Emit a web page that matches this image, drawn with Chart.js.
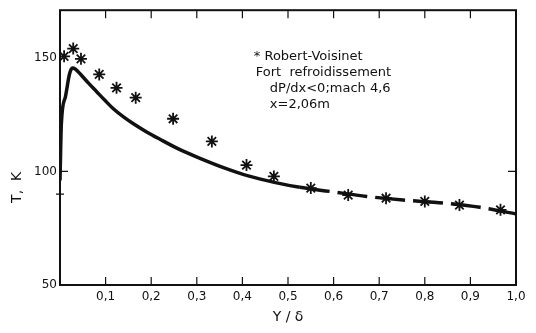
<!DOCTYPE html>
<html>
<head>
<meta charset="utf-8">
<script src="https://cdn.jsdelivr.net/npm/chart.js@4"></script>
<style>
  html, body { margin: 0; padding: 0; background: #fff; }
  #wrap { width: 536px; height: 333px; }
</style>
</head>
<body>
<div id="wrap"><canvas id="chart"></canvas></div>
<script>
// calcul (courbe continue)
const yCurve = [0, 0.003, 0.012, 0.021, 0.027, 0.034, 0.045, 0.062, 0.08, 0.099, 0.117, 0.14, 0.161, 0.19, 0.219, 0.263, 0.307, 0.36, 0.417, 0.47, 0.526, 0.592, 0.673, 0.752, 0.84, 0.921, 1.0];
const tCurve = [96, 121, 133, 143, 145.5, 145, 142.8, 139, 135.2, 131.2, 127.6, 123.9, 121, 117.4, 114.2, 109.6, 105.8, 101.6, 97.8, 95.2, 93, 91.2, 89, 87.4, 86.1, 84.2, 81.3];

// mesures Robert-Voisinet
const yStars = [0.009, 0.029, 0.046, 0.086, 0.124, 0.166, 0.248, 0.333, 0.409, 0.469, 0.55, 0.632, 0.715, 0.8, 0.876, 0.966];
const tStars = [150.7, 154.1, 149.6, 142.7, 136.8, 132.5, 123.2, 113.2, 102.8, 97.8, 92.7, 89.6, 88.2, 86.8, 85.2, 83.1];

const xTicks = [0.1, 0.2, 0.3, 0.4, 0.5, 0.6, 0.7, 0.8, 0.9, 1.0];
const yTicks = [50, 100, 150];

const legendLines = [
  { text: '* Robert-Voisinet', dx: 0 },
  { text: 'Fort  refroidissement', dx: 2 },
  { text: 'dP/dx<0;mach 4,6', dx: 16 },
  { text: 'x=2,06m', dx: 16 }
];

const ink = '#111';
const fontFam = '"DejaVu Sans", sans-serif';

const framePlugin = {
  id: 'frame',
  afterDatasetsDraw(chart) {
    const { ctx, chartArea: a, scales } = chart;
    ctx.save();
    ctx.strokeStyle = ink;
    ctx.lineWidth = 2;
    ctx.strokeRect(a.left, a.top, a.right - a.left, a.bottom - a.top);
    // petits traits vers l'interieur
    ctx.lineWidth = 1.2;
    ctx.beginPath();
    xTicks.forEach(v => {
      const px = scales.x.getPixelForValue(v);
      ctx.moveTo(px, a.bottom); ctx.lineTo(px, a.bottom - 8);
      ctx.moveTo(px, a.top); ctx.lineTo(px, a.top + 8);
    });
    [100].forEach(v => {
      const py = scales.y.getPixelForValue(v);
      ctx.moveTo(a.left, py); ctx.lineTo(a.left + 8, py);
      ctx.moveTo(a.right, py); ctx.lineTo(a.right - 8, py);
    });
    const p90 = scales.y.getPixelForValue(90);
    ctx.moveTo(a.left - 4, p90); ctx.lineTo(a.left + 4, p90);
    ctx.stroke();

    ctx.fillStyle = ink;
    ctx.font = '13px ' + fontFam;
    ctx.textBaseline = 'middle';
    const x0 = scales.x.getPixelForValue(0.425);
    let y0 = scales.y.getPixelForValue(150.5);
    legendLines.forEach(l => {
      ctx.fillText(l.text, x0 + l.dx, y0);
      y0 += 16;
    });

    // titre axe vertical
    ctx.font = '14px ' + fontFam;
    ctx.textAlign = 'center';
    ctx.translate(17, scales.y.getPixelForValue(93));
    ctx.rotate(-Math.PI / 2);
    ctx.fillText('T,  K', 0, 0);
    ctx.restore();
  }
};

new Chart(document.getElementById('chart'), {
  type: 'scatter',
  data: {
    datasets: [
      {
        label: 'calcul',
        data: yCurve.map((x, i) => ({ x: x, y: tCurve[i] })),
        showLine: true,
        borderColor: ink,
        borderWidth: 3.5,
        pointRadius: 0,
        cubicInterpolationMode: 'monotone',
        segment: {
          borderDash: c => c.p0.parsed.x >= 0.5 ? [30, 8] : undefined
        }
      },
      {
        label: 'Robert-Voisinet',
        data: yStars.map((x, i) => ({ x: x, y: tStars[i] })),
        pointStyle: 'star',
        pointRadius: 6,
        borderColor: ink,
        backgroundColor: ink,
        borderWidth: 1.8
      }
    ]
  },
  options: {
    responsive: true,
    maintainAspectRatio: false,
    animation: false,
    layout: { padding: { top: 10, right: 20, left: 0, bottom: 0 } },
    plugins: { legend: { display: false }, tooltip: { enabled: false } },
    scales: {
      x: {
        type: 'linear',
        min: 0,
        max: 1.0,
        afterBuildTicks: s => { s.ticks = xTicks.map(v => ({ value: v })); },
        afterFit: s => { s.height = 48; },
        grid: { display: false, drawTicks: false },
        border: { display: false },
        ticks: {
          color: ink,
          padding: 5,
          maxRotation: 0,
          font: { family: fontFam, size: 12 },
          callback: v => v.toFixed(1).replace('.', ',')
        },
        title: {
          display: true,
          text: 'Y / δ',
          color: ink,
          padding: { top: 4, bottom: 7 },
          font: { family: fontFam, size: 14 }
        }
      },
      y: {
        min: 50,
        max: 171,
        afterBuildTicks: s => { s.ticks = yTicks.map(v => ({ value: v })); },
        afterFit: s => { s.width = 60; },
        grid: { display: false, drawTicks: false },
        border: { display: false },
        ticks: {
          color: ink,
          padding: 3,
          font: { family: fontFam, size: 12 }
        },
        title: { display: false }
      }
    }
  },
  plugins: [framePlugin]
});
</script>
</body>
</html>
